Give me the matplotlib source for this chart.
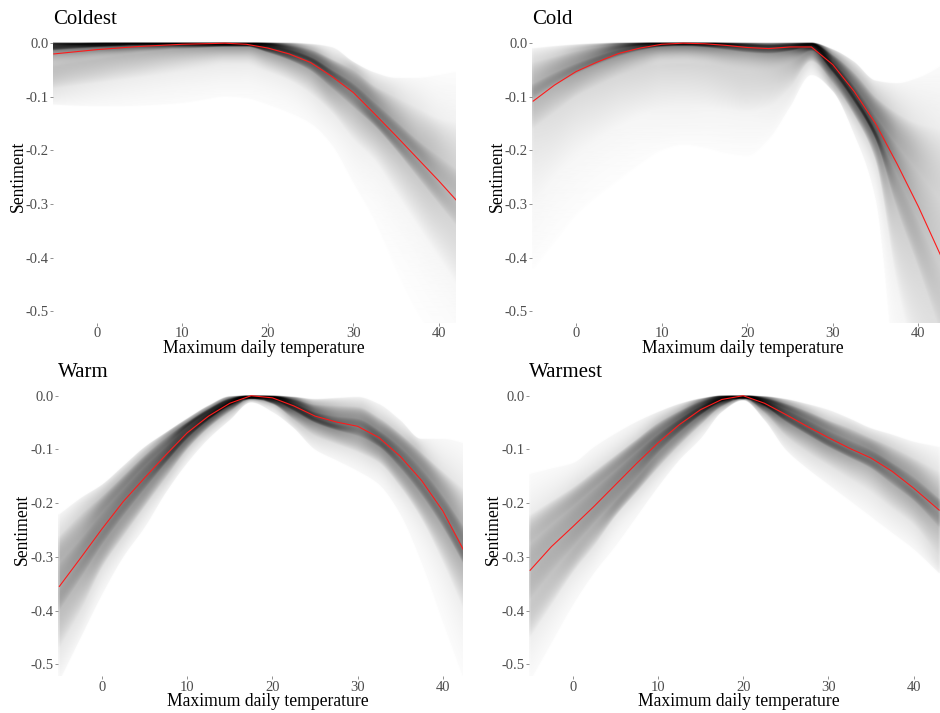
import numpy as np
import matplotlib
matplotlib.use("Agg")
import matplotlib.pyplot as plt

plt.rcParams["font.family"] = ["Liberation Serif", "DejaVu Serif"]
plt.rcParams["axes.unicode_minus"] = False

W, H = 940, 713

# temperature grid where the bootstrap spread and the mean fit are read
temp = [-5, -2.5, 0, 2.5, 5, 7.5, 10, 12.5, 15, 17.5, 20, 22.5, 25, 27.5, 30, 32.5, 35, 37.5, 40, 43]
probs = [0, 0.05, 0.25, 0.5, 0.75, 0.95, 1]
yticks = [0.0, -0.1, -0.2, -0.3, -0.4, -0.5]
xticks = [0, 10, 20, 30, 40]

# ---- Coldest ----
coldest_mean = [-0.020, -0.016, -0.012, -0.009, -0.006, -0.004, -0.002, -0.001, 0.000, -0.002,
                -0.009, -0.020, -0.036, -0.062, -0.092, -0.132, -0.173, -0.215, -0.257, -0.310]
coldest_min = [-0.115, -0.117, -0.118, -0.118, -0.117, -0.115, -0.112, -0.106, -0.100, -0.103,
               -0.115, -0.130, -0.150, -0.190, -0.260, -0.330, -0.420, -0.500, -0.560, -0.620]
coldest_p05 = [-0.085, -0.080, -0.075, -0.070, -0.065, -0.060, -0.055, -0.050, -0.045, -0.045,
               -0.055, -0.070, -0.095, -0.130, -0.180, -0.220, -0.280, -0.340, -0.400, -0.470]
coldest_p25 = [-0.045, -0.038, -0.032, -0.026, -0.021, -0.016, -0.012, -0.009, -0.007, -0.007,
               -0.018, -0.032, -0.052, -0.085, -0.120, -0.155, -0.200, -0.250, -0.300, -0.360]
coldest_p50 = [-0.014, -0.011, -0.008, -0.006, -0.004, -0.003, -0.002, -0.001, -0.001, -0.002,
               -0.009, -0.020, -0.036, -0.064, -0.094, -0.132, -0.172, -0.213, -0.255, -0.300]
coldest_p75 = [-0.006, -0.004, -0.003, -0.002, -0.001, -0.001, -0.0005, 0.0, 0.0, -0.0005,
               -0.004, -0.012, -0.026, -0.050, -0.075, -0.110, -0.145, -0.180, -0.210, -0.245]
coldest_p95 = [-0.001, -0.001, -0.0005, 0.0, 0.0, 0.0, 0.0, 0.0, 0.0, 0.0,
               -0.001, -0.004, -0.012, -0.030, -0.050, -0.080, -0.100, -0.120, -0.140, -0.150]
coldest_max = [0.0, 0.0, 0.0, 0.0, 0.0, 0.0, 0.0, 0.0, 0.0, 0.0,
               0.0, 0.0, -0.002, -0.008, -0.035, -0.055, -0.065, -0.065, -0.060, -0.050]

# ---- Cold ----
cold_mean = [-0.108, -0.078, -0.053, -0.035, -0.019, -0.009, -0.002, 0.000, -0.001, -0.004,
             -0.008, -0.010, -0.007, -0.007, -0.040, -0.090, -0.150, -0.225, -0.305, -0.410]
cold_min = [-0.420, -0.370, -0.320, -0.285, -0.255, -0.225, -0.200, -0.190, -0.195, -0.205,
            -0.210, -0.180, -0.120, -0.060, -0.090, -0.170, -0.290, -0.650, -0.900, -1.100]
cold_p05 = [-0.300, -0.250, -0.210, -0.180, -0.155, -0.135, -0.125, -0.120, -0.120, -0.125,
            -0.130, -0.120, -0.085, -0.035, -0.075, -0.135, -0.220, -0.450, -0.620, -0.800]
cold_p25 = [-0.160, -0.130, -0.100, -0.080, -0.062, -0.050, -0.042, -0.040, -0.042, -0.050,
            -0.058, -0.055, -0.040, -0.015, -0.055, -0.110, -0.180, -0.310, -0.420, -0.560]
cold_p50 = [-0.105, -0.080, -0.058, -0.040, -0.025, -0.014, -0.007, -0.006, -0.008, -0.013,
            -0.018, -0.020, -0.015, -0.007, -0.045, -0.097, -0.162, -0.245, -0.330, -0.430]
cold_p75 = [-0.075, -0.055, -0.038, -0.024, -0.012, -0.005, -0.002, -0.001, -0.002, -0.004,
            -0.007, -0.009, -0.007, -0.003, -0.035, -0.080, -0.135, -0.190, -0.240, -0.300]
cold_p95 = [-0.035, -0.025, -0.015, -0.008, -0.003, -0.001, 0.0, 0.0, 0.0, -0.001,
            -0.002, -0.003, -0.002, -0.001, -0.022, -0.055, -0.100, -0.130, -0.150, -0.160]
cold_max = [-0.010, -0.006, -0.003, -0.001, 0.0, 0.0, 0.0, 0.0, 0.0, 0.0,
            0.0, 0.0, 0.0, 0.0, -0.012, -0.035, -0.070, -0.075, -0.065, -0.040]

# ---- Warm ----
warm_mean = [-0.355, -0.302, -0.248, -0.197, -0.153, -0.110, -0.069, -0.038, -0.014, 0.000,
             -0.004, -0.019, -0.038, -0.049, -0.057, -0.078, -0.113, -0.158, -0.215, -0.305]
warm_min = [-0.530, -0.450, -0.370, -0.300, -0.245, -0.180, -0.125, -0.080, -0.045, -0.012,
            -0.030, -0.060, -0.100, -0.120, -0.140, -0.165, -0.220, -0.310, -0.420, -0.550]
warm_p05 = [-0.470, -0.400, -0.320, -0.262, -0.207, -0.153, -0.100, -0.060, -0.030, -0.005,
            -0.015, -0.045, -0.075, -0.090, -0.105, -0.125, -0.170, -0.230, -0.310, -0.420]
warm_p25 = [-0.400, -0.340, -0.278, -0.224, -0.174, -0.125, -0.080, -0.045, -0.018, -0.001,
            -0.008, -0.028, -0.050, -0.064, -0.075, -0.095, -0.135, -0.185, -0.245, -0.330]
warm_p50 = [-0.355, -0.302, -0.248, -0.198, -0.152, -0.110, -0.069, -0.038, -0.014, 0.0,
            -0.004, -0.020, -0.040, -0.052, -0.058, -0.080, -0.115, -0.160, -0.215, -0.295]
warm_p75 = [-0.310, -0.265, -0.217, -0.173, -0.131, -0.094, -0.058, -0.031, -0.010, 0.0,
            -0.002, -0.013, -0.030, -0.038, -0.042, -0.064, -0.095, -0.135, -0.185, -0.255]
warm_p95 = [-0.260, -0.220, -0.186, -0.148, -0.110, -0.077, -0.049, -0.024, -0.005, 0.0,
            -0.001, -0.006, -0.016, -0.018, -0.020, -0.040, -0.070, -0.105, -0.140, -0.180]
warm_max = [-0.220, -0.190, -0.165, -0.130, -0.095, -0.068, -0.042, -0.018, -0.001, 0.0,
            0.0, -0.002, -0.006, -0.004, -0.002, -0.015, -0.045, -0.080, -0.080, -0.090]

# ---- Warmest ----
warmest_mean = [-0.325, -0.281, -0.244, -0.206, -0.166, -0.126, -0.088, -0.054, -0.026, -0.007,
                0.000, -0.014, -0.035, -0.057, -0.078, -0.098, -0.116, -0.141, -0.172, -0.213]
warmest_min = [-0.530, -0.460, -0.390, -0.330, -0.280, -0.225, -0.170, -0.120, -0.080, -0.030,
               -0.008, -0.045, -0.100, -0.135, -0.165, -0.195, -0.225, -0.255, -0.285, -0.330]
warmest_p05 = [-0.450, -0.390, -0.330, -0.280, -0.225, -0.180, -0.135, -0.093, -0.055, -0.020,
               -0.004, -0.032, -0.075, -0.105, -0.130, -0.155, -0.180, -0.210, -0.240, -0.300]
warmest_p25 = [-0.380, -0.330, -0.283, -0.238, -0.195, -0.152, -0.107, -0.069, -0.036, -0.011,
               -0.001, -0.019, -0.048, -0.072, -0.095, -0.115, -0.135, -0.165, -0.195, -0.245]
warmest_p50 = [-0.325, -0.283, -0.244, -0.205, -0.166, -0.127, -0.088, -0.055, -0.027, -0.007,
               0.0, -0.014, -0.036, -0.058, -0.080, -0.099, -0.117, -0.143, -0.173, -0.215]
warmest_p75 = [-0.275, -0.240, -0.207, -0.173, -0.139, -0.104, -0.071, -0.043, -0.019, -0.004,
               0.0, -0.009, -0.025, -0.044, -0.064, -0.082, -0.100, -0.124, -0.150, -0.190]
warmest_p95 = [-0.220, -0.195, -0.170, -0.140, -0.110, -0.080, -0.050, -0.028, -0.010, -0.001,
               0.0, -0.004, -0.014, -0.028, -0.045, -0.060, -0.078, -0.095, -0.115, -0.140]
warmest_max = [-0.145, -0.135, -0.125, -0.095, -0.070, -0.048, -0.030, -0.015, -0.005, 0.0,
               0.0, -0.001, -0.006, -0.015, -0.026, -0.042, -0.060, -0.072, -0.085, -0.095]

panels = [
    dict(title="Coldest", mean=coldest_mean,
         q=[coldest_min, coldest_p05, coldest_p25, coldest_p50, coldest_p75, coldest_p95, coldest_max],
         box=(53, 456, 41.6, 323), xlim=(-5.1, 42.0),
         title_xy=(53, 24), xlab_xy=(264, 352.7), ylab_xy=(18, 176)),
    dict(title="Cold", mean=cold_mean,
         q=[cold_min, cold_p05, cold_p25, cold_p50, cold_p75, cold_p95, cold_max],
         box=(532, 940, 41.6, 323), xlim=(-5.14, 42.52),
         title_xy=(532, 24), xlab_xy=(742.5, 352.7), ylab_xy=(497, 176)),
    dict(title="Warm", mean=warm_mean,
         q=[warm_min, warm_p05, warm_p25, warm_p50, warm_p75, warm_p95, warm_max],
         box=(58, 463, 394.1, 676.1), xlim=(-5.16, 42.35),
         title_xy=(58, 377), xlab_xy=(267.5, 705.7), ylab_xy=(22.5, 529)),
    dict(title="Warmest", mean=warmest_mean,
         q=[warmest_min, warmest_p05, warmest_p25, warmest_p50, warmest_p75, warmest_p95, warmest_max],
         box=(529, 940, 394.1, 676.1), xlim=(-5.13, 43.1),
         title_xy=(529, 377), xlab_xy=(738.7, 705.7), ylab_xy=(493.5, 529)),
]

YLIM = (-0.522, 0.003)


def pchip(xk, yk, xe, end=1.0):
    """Monotone cubic (Fritsch-Carlson) through the knots, evaluated at xe."""
    xk = np.asarray(xk, float)
    yk = np.asarray(yk, float)
    h = np.diff(xk)
    d = np.diff(yk) / h
    m = np.zeros_like(yk)
    m[0], m[-1] = end * d[0], end * d[-1]
    for k in range(1, len(xk) - 1):
        if d[k - 1] * d[k] > 0:
            w1 = 2 * h[k] + h[k - 1]
            w2 = h[k] + 2 * h[k - 1]
            m[k] = (w1 + w2) / (w1 / d[k - 1] + w2 / d[k])
    xe = np.clip(xe, xk[0], xk[-1])
    i = np.clip(np.searchsorted(xk, xe) - 1, 0, len(xk) - 2)
    t = (xe - xk[i]) / h[i]
    h00 = (1 + 2 * t) * (1 - t) ** 2
    h10 = t * (1 - t) ** 2
    h01 = t ** 2 * (3 - 2 * t)
    h11 = t ** 2 * (t - 1)
    return h00 * yk[i] + h10 * h[i] * m[i] + h01 * yk[i + 1] + h11 * h[i] * m[i + 1]


def draws_image(q_rows, xlim, ylim, w_px, h_px, n_lines=1000, alpha=0.024, sub=2):
    """Shade of many thin overlapping draws, built from their quantile curves."""
    nx, ny = int(w_px * sub), int(h_px * sub)
    xs = np.linspace(xlim[0], xlim[1], nx)
    edges = np.linspace(ylim[1], ylim[0], ny + 1)
    q = np.array([pchip(temp, row, xs) for row in q_rows])
    p = np.array(probs)
    # keep a sliver of spread where all draws meet
    for k in range(len(p) - 2, -1, -1):
        q[k] = np.minimum(q[k], q[k + 1] - 0.005 * (p[k + 1] - p[k]))

    # steeper curves cover more rows per column
    xscale = w_px / (xlim[1] - xlim[0])
    yscale = h_px / (ylim[1] - ylim[0])
    slope = np.gradient(q[3], xs) * yscale / xscale
    stretch = np.sqrt(1 + slope ** 2)

    img = np.ones((ny, nx))
    kernel = np.ones(sub)
    asc = edges[::-1]
    for j in range(nx):
        # thin out towards the extreme draws
        cdf = pchip(q[:, j], p, asc, end=0.45)
        cdf = np.where(asc < q[0, j], 0.0, np.where(asc > q[-1, j], 1.0, cdf))
        mass = np.diff(cdf)[::-1]
        mass = np.convolve(mass, kernel, mode="same")
        count = n_lines * mass * stretch[j]
        img[:, j] = (1 - alpha) ** count
    return img


fig = plt.figure(figsize=(W / 100, H / 100), dpi=100)
fig.patch.set_facecolor("white")


def fx(px):
    return px / W


def fy(py):
    return 1 - py / H


for pan in panels:
    x0, x1, top, bot = pan["box"]
    ax = fig.add_axes([fx(x0), fy(bot), fx(x1 - x0), (bot - top) / H])
    img = draws_image(pan["q"], pan["xlim"], YLIM, x1 - x0, bot - top)
    ax.imshow(img, cmap="gray", vmin=0, vmax=1, aspect="auto", origin="upper",
              extent=[pan["xlim"][0], pan["xlim"][1], YLIM[0], YLIM[1]],
              interpolation="antialiased", zorder=1)
    ax.plot(temp, pan["mean"], color="#FF1A1A", lw=0.8, zorder=3)

    ax.set_xlim(*pan["xlim"])
    ax.set_ylim(*YLIM)
    ax.set_xticks(xticks)
    ax.set_yticks(yticks)
    ax.set_xticklabels([str(t) for t in xticks])
    ax.set_yticklabels([f"{t:.1f}" for t in yticks])
    for s in ax.spines.values():
        s.set_visible(False)
    ax.tick_params(axis="both", length=2.2, width=0.5, color="#666666",
                   labelcolor="#4D4D4D", labelsize=10.5, pad=1)

    fig.text(fx(pan["title_xy"][0]), fy(pan["title_xy"][1]), pan["title"],
             fontsize=15, color="black", ha="left", va="baseline")
    fig.text(fx(pan["xlab_xy"][0]), fy(pan["xlab_xy"][1]), "Maximum daily temperature",
             fontsize=12.7, color="black", ha="center", va="baseline")
    fig.text(fx(pan["ylab_xy"][0]), fy(pan["ylab_xy"][1]), "Sentiment",
             fontsize=12.7, color="black", ha="center", va="center", rotation=90)

fig.savefig("out.png", dpi=100, facecolor="white")
